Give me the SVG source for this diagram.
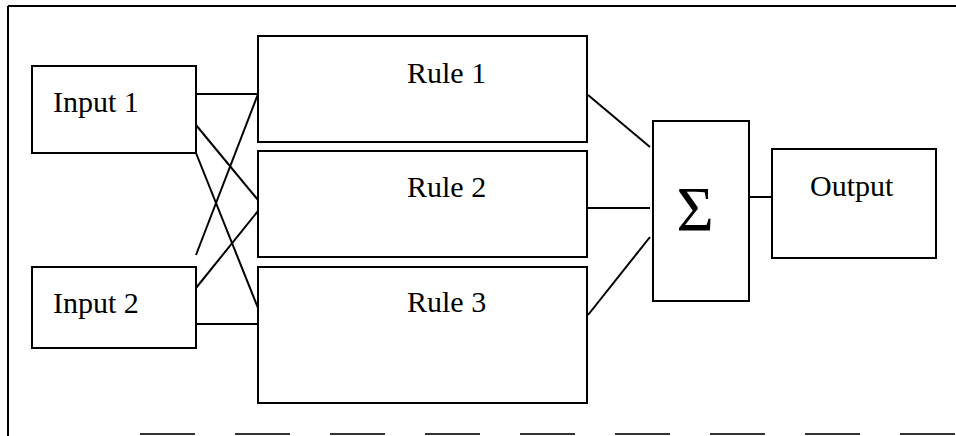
<svg xmlns="http://www.w3.org/2000/svg" width="956" height="436" viewBox="0 0 956 436">
<style>
.box{fill:#fff;stroke:#000;stroke-width:2}
.lbl{font-family:"Liberation Serif","Times New Roman",serif;font-size:30px;fill:#000}
.frame{stroke:#000;stroke-width:2;fill:none}
#connectors line{stroke:#000;stroke-width:2}
</style>
<rect width="956" height="436" fill="#fff"/>
<g id="frame">
<line class="frame" x1="8" y1="6" x2="956" y2="6"/>
<line class="frame" x1="8" y1="6" x2="8" y2="436"/>
<line x1="140" y1="434" x2="956" y2="434" stroke="#333" stroke-width="2" stroke-dasharray="55,40"/>
</g>
<g id="connectors">
<line x1="196" y1="94" x2="258" y2="94"/>
<line x1="196" y1="125" x2="258" y2="200"/>
<line x1="196" y1="153" x2="258" y2="308"/>
<line x1="258" y1="94" x2="196" y2="255"/>
<line x1="196" y1="288" x2="258" y2="211"/>
<line x1="196" y1="324" x2="258" y2="324"/>
<line x1="588" y1="95" x2="650" y2="147"/>
<line x1="588" y1="208" x2="650" y2="208"/>
<line x1="588" y1="315" x2="650" y2="237"/>
<line x1="749" y1="197" x2="772" y2="197"/>
</g>
<g id="input1"><rect class="box" x="32" y="66" width="164" height="87"/><text class="lbl" x="53" y="112">Input 1</text></g>
<g id="input2"><rect class="box" x="32" y="267" width="164" height="81"/><text class="lbl" x="53" y="313">Input 2</text></g>
<g id="rule1"><rect class="box" x="258" y="36" width="329" height="106"/><text class="lbl" x="407" y="83">Rule 1</text></g>
<g id="rule2"><rect class="box" x="258" y="151" width="329" height="106"/><text class="lbl" x="407" y="197">Rule 2</text></g>
<g id="rule3"><rect class="box" x="258" y="267" width="329" height="136"/><text class="lbl" x="407" y="312">Rule 3</text></g>
<g id="sum"><rect class="box" x="653" y="121" width="96" height="180"/><text class="lbl" x="695" y="231" style="font-size:64px" text-anchor="middle">Σ</text></g>
<g id="output"><rect class="box" x="772" y="149" width="164" height="109"/><text class="lbl" x="810" y="196">Output</text></g>
</svg>
